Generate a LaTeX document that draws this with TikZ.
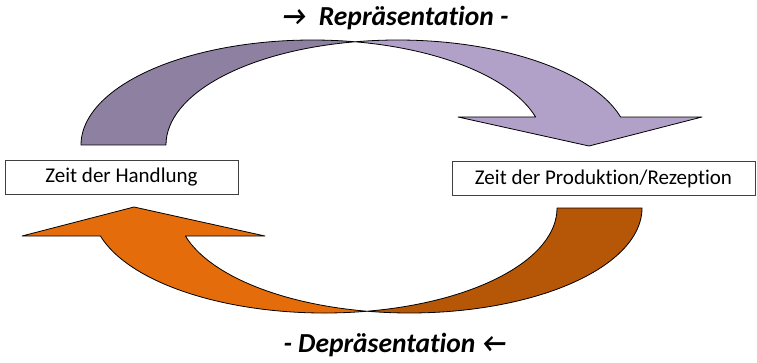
\documentclass[tikz,border=0pt]{standalone}
\usepackage{fontspec}
\setmainfont[Ligatures=NoCommon]{Carlito}
\begin{document}
\begin{tikzpicture}[x=1pt,y=1pt,
  outline/.style={draw=black,line width=0.8pt,line join=round},
  timebox/.style={draw=black!75,line width=0.9pt,fill=white,minimum height=34pt,inner sep=0pt,font=\fontsize{21}{25}\selectfont},
  caption/.style={font=\fontsize{27.5}{32}\selectfont\bfseries\itshape,inner sep=0pt}]
\definecolor{lilacdark}{HTML}{8E80A0}
\definecolor{lilaclight}{HTML}{B1A0C8}
\definecolor{orangemain}{HTML}{E46C0A}
\definecolor{orangedark}{HTML}{B65708}
\useasboundingbox (0,0) rectangle (757,362);

% upper curved arrow: rear half (tail) and front half (head)
\coordinate (ptop) at (355,320.2);
\filldraw[outline,fill=lilacdark]
  (81,217) arc[start angle=180,end angle=79.42,x radius=231.5,y radius=105]
  arc[start angle=100.58,end angle=180,x radius=231.5,y radius=105] -- cycle;
\filldraw[outline,fill=lilaclight]
  (ptop) arc[start angle=100.58,end angle=15.47,x radius=231.5,y radius=105]
  -- (702,245) -- (589,216) -- (458,245) -- (535.6,245)
  arc[start angle=15.47,end angle=79.42,x radius=231.5,y radius=105] -- cycle;

% lower curved arrow: rear half (tail) and front half (head)
\coordinate (pbot) at (367,50.77);
\filldraw[outline,fill=orangedark]
  (642,154) arc[start angle=0,end angle=-100.53,x radius=232.5,y radius=105]
  arc[start angle=-79.47,end angle=0,x radius=232.5,y radius=105] -- cycle;
\filldraw[outline,fill=orangemain]
  (pbot) arc[start angle=-79.47,end angle=-164.53,x radius=232.5,y radius=105]
  -- (22,126) -- (134,155) -- (265,126) -- (185.4,126)
  arc[start angle=-164.53,end angle=-100.53,x radius=232.5,y radius=105] -- cycle;

% time boxes
\node[timebox,minimum width=233pt] (handlung) at (121.5,185) {Zeit der Handlung};
\node[timebox,minimum width=303pt] (produktion) at (603.5,183.5) {Zeit der Produktion/Rezeption};

% captions
\node[caption] (repr) at (395,344) {→\ \ Repräsentation -};
\node[caption] (depr) at (395,17) {- Depräsentation ←};
\end{tikzpicture}
\end{document}
